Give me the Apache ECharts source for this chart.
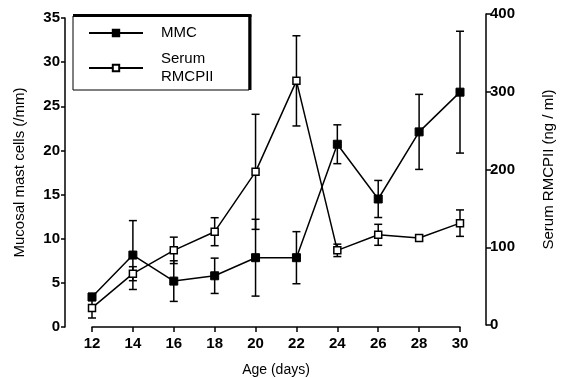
<!DOCTYPE html>
<html>
<head>
<meta charset="utf-8">
<script src="https://cdn.jsdelivr.net/npm/echarts@6/dist/echarts.min.js"></script>
<style>html,body{margin:0;padding:0;background:#fff}#c{width:566px;height:378px}</style>
</head>
<body>
<div id="c"></div>
<script>
const days = [12, 14, 16, 18, 20, 22, 24, 26, 28, 30];
const mmc = [3.4, 8.15, 5.2, 5.8, 7.85, 7.85, 20.7, 14.5, 22.1, 26.6];
const mmcErr = [0.4, 3.9, 2.3, 2.0, 4.35, 2.95, 2.2, 2.1, 4.25, 6.9];
const serum = [22, 66, 96, 120, 197, 314, 96, 116, 112, 131];
const serumErr = [13, 9, 17, 18, 74, 58, 8, 13.5, 4, 17];
const leftTicks = [0, 5, 10, 15, 20, 25, 30, 35];
const rightTicks = [0, 100, 200, 300, 400];

const FONT = 'Liberation Sans, Arial, Helvetica, sans-serif';
const chart = echarts.init(document.getElementById('c'), null, {renderer: 'canvas'});

function errRender(params, api) {
  const x = api.value(0), lo = api.value(1), hi = api.value(2);
  const p1 = api.coord([x, hi]), p2 = api.coord([x, lo]);
  const w = 4;
  const st = {stroke: '#000', lineWidth: 1.5};
  return {type: 'group', children: [
    {type: 'line', shape: {x1: p1[0], y1: p1[1], x2: p2[0], y2: p2[1]}, style: st},
    {type: 'line', shape: {x1: p1[0] - w, y1: p1[1], x2: p1[0] + w, y2: p1[1]}, style: st},
    {type: 'line', shape: {x1: p2[0] - w, y1: p2[1], x2: p2[0] + w, y2: p2[1]}, style: st}
  ]};
}

const mmcPts = days.map((d, i) => [d, mmc[i]]);
const serumPts = days.map((d, i) => [d, serum[i]]);
const mmcBars = days.map((d, i) => [d, mmc[i] - mmcErr[i], mmc[i] + mmcErr[i]]);
const serumBars = days.map((d, i) => [d, serum[i] - serumErr[i], serum[i] + serumErr[i]]);

const labelStyle = {color: '#000', fontFamily: FONT, fontSize: 15, fontWeight: 'bold'};
const lineAxis = {show: true, lineStyle: {color: '#000', width: 1.5}};

chart.setOption({
  animation: false,
  backgroundColor: '#fff',
  grid: [
    {left: 92, right: 106, top: 18, bottom: 51, outerBoundsMode: 'none', containLabel: false},
    {left: 92, right: 106, top: 14, bottom: 53, outerBoundsMode: 'none', containLabel: false}
  ],
  xAxis: [
    {type: 'value', gridIndex: 0, min: 12, max: 30, interval: 2,
     axisLine: lineAxis, axisTick: {show: true, length: 5, lineStyle: {color: '#000', width: 1.5}},
     axisLabel: Object.assign({margin: 9}, labelStyle), splitLine: {show: false},
     name: 'Age (days)', nameLocation: 'middle', nameGap: 36,
     nameTextStyle: {color: '#000', fontFamily: FONT, fontSize: 14}},
    {type: 'value', gridIndex: 1, min: 12, max: 30, show: false}
  ],
  yAxis: [
    {type: 'value', gridIndex: 0, position: 'left', offset: 27, min: 0, max: 35, interval: 5,
     axisLine: lineAxis, axisTick: {show: true, length: 4, lineStyle: {color: '#000', width: 1.5}},
     axisLabel: Object.assign({margin: 5}, labelStyle), splitLine: {show: false},
     name: 'Mucosal mast cells (/mm)', nameLocation: 'middle', nameRotate: 90, nameGap: 38,
     nameTextStyle: {color: '#000', fontFamily: FONT, fontSize: 15}},
    {type: 'value', gridIndex: 1, position: 'right', offset: 26, min: 0, max: 400, interval: 100,
     axisLine: lineAxis, axisTick: {show: true, length: 5, lineStyle: {color: '#000', width: 1.5}},
     axisLabel: Object.assign({margin: 4}, labelStyle), splitLine: {show: false},
     name: 'Serum RMCPII (ng / ml)', nameLocation: 'middle', nameRotate: 90, nameGap: 55,
     nameTextStyle: {color: '#000', fontFamily: FONT, fontSize: 15}}
  ],
  legend: {
    orient: 'vertical', left: 88, top: 24, itemWidth: 54, itemHeight: 8, itemGap: 8,
    padding: 0, selectedMode: false,
    textStyle: {color: '#000', fontFamily: FONT, fontSize: 15, lineHeight: 18, padding: [0, 0, 0, 13]},
    data: [{name: 'MMC'}, {name: 'Serum\nRMCPII'}]
  },
  graphic: [
    {type: 'rect', z: 1, shape: {x: 73, y: 16, width: 176, height: 74}, style: {fill: '#fff', stroke: '#000', lineWidth: 1}},
    {type: 'line', z: 1, shape: {x1: 73, y1: 15.5, x2: 251.5, y2: 15.5}, style: {stroke: '#000', lineWidth: 3}},
    {type: 'line', z: 1, shape: {x1: 250, y1: 15, x2: 250, y2: 90}, style: {stroke: '#000', lineWidth: 3}}
  ],
  series: [
    {type: 'custom', name: 'serumErr', xAxisIndex: 1, yAxisIndex: 1, renderItem: errRender,
     encode: {x: 0, y: [1, 2]}, data: serumBars, z: 2},
    {type: 'custom', name: 'mmcErr', xAxisIndex: 0, yAxisIndex: 0, renderItem: errRender,
     encode: {x: 0, y: [1, 2]}, data: mmcBars, z: 2},
    {type: 'line', name: 'Serum\nRMCPII', xAxisIndex: 1, yAxisIndex: 1, data: serumPts,
     symbol: 'rect', symbolSize: 7, z: 3,
     lineStyle: {color: '#000', width: 1.5},
     itemStyle: {color: '#fff', borderColor: '#000', borderWidth: 1.5}},
    {type: 'line', name: 'MMC', xAxisIndex: 0, yAxisIndex: 0, data: mmcPts,
     symbol: 'rect', symbolSize: 8, z: 4,
     lineStyle: {color: '#000', width: 1.5},
     itemStyle: {color: '#000', borderColor: '#000', borderWidth: 1}}
  ]
});
</script>
</body>
</html>
